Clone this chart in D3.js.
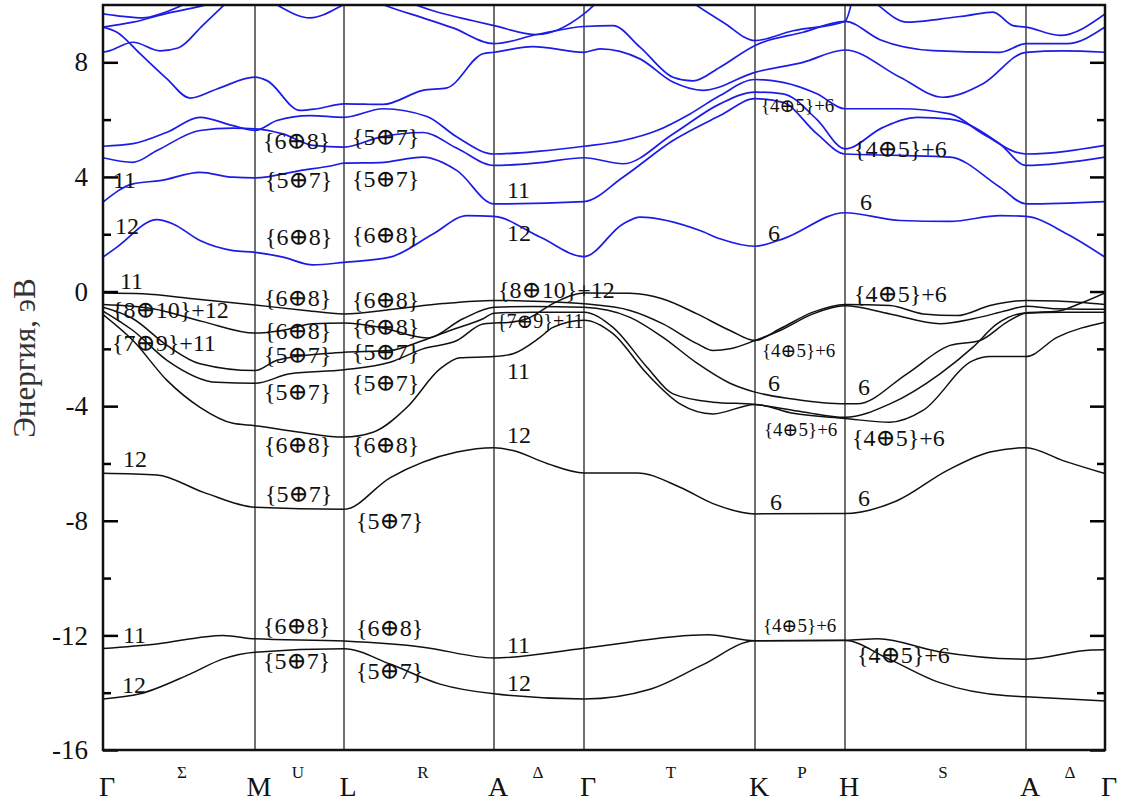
<!DOCTYPE html>
<html>
<head>
<meta charset="utf-8">
<script src="https://cdn.jsdelivr.net/npm/d3@7"></script>
<style>
  body { margin: 0; background: #fff; }
  svg text { font-family: "Liberation Serif", "DejaVu Serif", serif; }
</style>
</head>
<body>
<svg id="chart" width="1129" height="804"></svg>
<script>
// path through the Brillouin zone (path length, arb. units)
const kLabels = ["Γ", "M", "L", "A", "Γ", "K", "H", "A", "Γ"];
const kPoints = [0, 1.52, 2.41, 3.91, 4.81, 6.52, 7.42, 9.23, 10.02];
const segLabels = ["Σ", "U", "R", "Δ", "T", "P", "S", "Δ"];
const segPoints = [0.79, 1.95, 3.2, 4.35, 5.68, 6.99, 8.4, 9.67];
const yMajor = [-16, -12, -8, -4, 0, 4, 8];
const yMinor = [-14, -10, -6, -2, 2, 6];

// valence bands [k, E in eV]
const bandV1 = [[0,-0.05],[0.4,-0.08],[0.9,-0.25],[1.52,-0.47],[2.0,-0.65],[2.41,-0.78],[2.9,-0.62],[3.4,-0.42],[3.91,-0.31],[4.4,-0.35],[4.81,-0.43],[5.27,-0.66],[5.6,-1.13],[5.94,-1.82],[6.1,-2.06],[6.27,-2.0],[6.52,-1.71],[6.77,-1.36],[7.1,-0.78],[7.42,-0.5],[7.87,-0.78],[8.37,-1.12],[8.7,-0.95],[9.04,-0.66],[9.23,-0.51],[9.54,-0.6],[10.02,-0.62]];
const bandV2 = [[0,-0.45],[0.5,-0.6],[1.0,-1.05],[1.52,-1.45],[1.8,-1.35],[2.1,-1.12],[2.41,-1.1],[2.8,-1.27],[3.24,-1.62],[3.6,-0.95],[3.91,-0.55],[4.3,-0.52],[4.81,-0.55],[5.27,-0.9],[5.6,-1.6],[5.94,-2.5],[6.27,-3.2],[6.52,-3.51],[6.9,-3.75],[7.42,-3.92],[7.54,-3.92],[8.04,-2.87],[8.47,-1.88],[8.77,-1.71],[9.04,-1.07],[9.23,-0.76],[9.6,-0.72],[10.02,-0.72]];
const bandV3 = [[0,-0.55],[0.3,-0.95],[0.64,-1.88],[0.97,-2.52],[1.52,-2.76],[1.74,-2.4],[2.2,-2.17],[2.41,-2.12],[2.87,-2.06],[3.2,-1.71],[3.47,-1.36],[3.8,-0.95],[3.91,-0.76],[4.3,-0.72],[4.81,-0.72],[5.1,-1.25],[5.44,-2.64],[5.7,-3.57],[6.1,-3.86],[6.52,-3.94],[7.0,-4.2],[7.42,-4.39],[7.87,-3.92],[8.37,-2.87],[8.7,-1.94],[8.94,-1.13],[9.23,-0.74],[9.54,-0.69],[9.77,-0.42],[10.02,-0.05]];
const bandV4 = [[0,-0.68],[0.3,-1.36],[0.64,-2.4],[1.14,-3.17],[1.52,-3.2],[1.87,-2.87],[2.41,-2.73],[2.87,-2.47],[3.2,-2.0],[3.54,-1.71],[3.8,-1.13],[3.91,-1.1],[4.05,-1.08],[4.24,-0.95],[4.5,-0.42],[4.7,-0.12],[4.81,-0.05],[5.27,-0.06],[5.6,-0.26],[5.94,-0.78],[6.27,-1.36],[6.52,-1.71],[6.77,-1.3],[7.1,-0.72],[7.42,-0.45],[7.87,-0.49],[8.2,-0.78],[8.54,-0.84],[8.87,-0.49],[9.23,-0.31],[9.54,-0.33],[10.02,-0.45]];
const bandV5 = [[0,-0.8],[0.3,-1.71],[0.64,-3.1],[0.97,-4.04],[1.3,-4.6],[1.52,-4.68],[1.97,-4.91],[2.41,-5.08],[2.7,-4.91],[3.04,-4.04],[3.37,-2.7],[3.57,-2.31],[3.91,-2.27],[4.1,-2.17],[4.37,-1.6],[4.5,-1.25],[4.81,-1.0],[5.1,-1.47],[5.44,-2.87],[5.77,-3.92],[6.1,-4.27],[6.52,-3.94],[6.9,-4.25],[7.42,-4.43],[7.87,-4.56],[8.2,-4.15],[8.7,-2.41],[8.87,-2.27],[9.23,-2.27],[9.54,-1.6],[10.02,-1.07]];
const bandV6 = [[0,-6.34],[0.54,-6.4],[1.0,-7.0],[1.52,-7.53],[2.41,-7.6],[2.87,-6.5],[3.54,-5.6],[3.91,-5.45],[4.1,-5.55],[4.44,-6.0],[4.81,-6.33],[5.34,-6.33],[5.77,-6.83],[6.1,-7.4],[6.52,-7.76],[7.42,-7.75],[7.94,-7.3],[8.44,-6.25],[8.87,-5.6],[9.23,-5.45],[9.6,-5.9],[10.02,-6.35]];
const bandB1 = [[0,-14.22],[0.37,-14.04],[0.87,-13.35],[1.2,-12.82],[1.52,-12.59],[2.41,-12.47],[2.87,-13.0],[3.37,-13.7],[3.91,-14.04],[4.81,-14.22],[5.48,-13.87],[5.99,-13.04],[6.52,-12.19],[7.42,-12.18],[7.85,-12.81],[8.36,-13.64],[9.04,-14.11],[9.23,-14.14],[10.02,-14.29]];
const bandB2 = [[0,-12.46],[0.54,-12.3],[1.2,-12.0],[1.52,-12.12],[2.41,-12.2],[3.2,-12.41],[3.91,-12.79],[4.81,-12.45],[6.05,-11.98],[6.52,-12.19],[7.42,-12.17],[7.75,-12.12],[8.36,-12.57],[9.23,-12.83],[9.88,-12.51],[10.02,-12.5]];

// conduction bands [k, E in eV]
const bandC1 = [[0,1.2],[0.14,1.55],[0.54,2.51],[0.7,2.36],[0.97,1.78],[1.3,1.43],[1.52,1.37],[1.8,1.2],[2.1,0.93],[2.41,1.02],[2.87,1.2],[3.3,2.01],[3.64,2.65],[3.91,2.62],[4.37,1.9],[4.81,1.22],[5.2,2.36],[5.37,2.6],[5.97,2.13],[6.17,1.84],[6.52,1.58],[6.8,1.84],[7.42,2.75],[7.97,2.48],[8.47,2.45],[8.97,2.65],[9.23,2.62],[9.64,2.01],[10.02,1.2]];
const bandC2 = [[0,3.12],[0.3,3.76],[0.57,3.87],[0.97,4.16],[1.3,3.99],[1.52,3.97],[1.97,4.22],[2.3,4.4],[2.41,4.48],[2.77,4.5],[3.2,4.69],[3.54,4.22],[3.91,3.06],[4.81,3.14],[5.2,3.99],[5.7,5.27],[6.17,6.14],[6.52,6.73],[6.8,6.6],[7.14,5.5],[7.42,4.8],[7.97,4.75],[8.47,4.69],[8.97,3.64],[9.23,3.06],[10.02,3.14]];
const bandC3 = [[0,4.67],[0.3,4.51],[0.54,4.92],[0.97,5.62],[1.3,5.7],[1.52,5.68],[1.8,5.5],[2.1,5.1],[2.41,5.04],[2.77,5.39],[3.2,5.55],[3.54,5.0],[3.91,4.4],[4.37,4.5],[4.81,4.67],[5.2,4.46],[5.7,5.5],[6.17,6.55],[6.52,6.96],[6.8,6.9],[7.14,6.0],[7.42,4.98],[7.8,5.73],[8.14,6.08],[8.47,6.02],[8.97,5.15],[9.23,4.4],[10.02,4.69]];
const bandC4 = [[0,5.07],[0.3,5.16],[0.64,5.56],[0.97,6.08],[1.3,5.79],[1.52,5.62],[1.74,5.97],[2.07,6.14],[2.41,6.08],[2.8,6.38],[3.24,6.11],[3.54,5.39],[3.91,4.8],[4.37,4.9],[4.81,5.07],[5.2,5.27],[5.54,5.62],[5.87,6.2],[6.17,6.84],[6.52,7.4],[6.8,7.3],[7.14,6.9],[7.42,6.38],[7.97,6.38],[8.47,6.2],[8.8,5.5],[9.23,4.8],[10.02,5.1]];
const bandC5 = [[0,9.23],[0.14,9.05],[0.37,8.3],[0.64,7.42],[0.87,6.75],[1.14,7.07],[1.52,7.48],[1.64,7.36],[1.97,6.32],[2.14,6.38],[2.41,6.55],[2.8,6.53],[3.2,7.02],[3.44,7.11],[3.8,8.3],[3.91,8.35],[4.3,8.55],[4.81,8.35],[4.97,8.47],[5.37,8.12],[5.7,7.31],[6.0,7.02],[6.52,7.65],[7.0,8.0],[7.42,8.43],[7.97,7.48],[8.4,6.78],[8.8,7.25],[9.23,8.35],[9.6,8.4],[10.02,8.35]];
const bandC6 = [[0,8.35],[0.07,8.41],[0.3,8.7],[0.57,8.4],[0.75,8.5],[1.0,9.3],[1.3,10.3]];
const bandC7 = [[0,9.23],[0.3,9.4],[0.63,9.7],[0.97,9.95],[1.3,10.3]];
const bandC8 = [[0,9.69],[0.2,9.6],[0.4,9.55],[0.6,9.72],[0.97,10.3]];
const bandC9 = [[1.6,10.3],[1.74,10.0],[2.07,9.55],[2.4,10.0],[2.55,10.3]];
const bandC10 = [[2.6,10.3],[2.85,9.95],[3.2,9.55],[3.5,9.2],[3.91,8.65],[4.34,8.97],[4.81,9.25],[5.1,9.28],[5.37,8.53],[5.7,7.48],[5.9,7.35],[6.17,7.83],[6.52,8.59],[7.0,9.05],[7.42,9.43],[7.77,8.79],[8.3,8.41],[8.97,8.35],[9.23,8.65],[9.64,8.65],[10.02,9.23]];
const bandC11 = [[2.9,10.3],[3.3,9.8],[3.7,9.45],[3.91,9.28],[4.34,8.97],[4.81,9.69],[5.0,10.3]];
const bandC12 = [[5.8,10.3],[6.2,9.4],[6.52,8.76],[6.9,9.1],[7.42,9.43],[7.5,10.3]];
const bandC13 = [[7.65,10.3],[7.75,10.0],[8.04,9.4],[8.37,9.51],[8.64,9.63],[8.9,9.75],[9.1,9.28],[9.23,9.23],[9.57,8.94],[10.02,9.69]];

const valenceBands = [bandV1, bandV2, bandV3, bandV4, bandV5, bandV6, bandB1, bandB2];
const conductionBands = [bandC1, bandC2, bandC3, bandC4, bandC5, bandC6, bandC7, bandC8, bandC9, bandC10, bandC11, bandC12, bandC13];

// irreducible representation labels [k, E, text, font size]
const repLabels = [
  [0.10, 3.63, "11", 24], [0.12, 2.02, "12", 24], [0.17, 0.10, "11", 24],
  [0.09, -0.94, "{8⊕10}+12", 24], [0.09, -2.06, "{7⊕9}+11", 24], [0.20, -6.14, "12", 24],
  [0.20, -12.25, "11", 24], [0.19, -14.0, "12", 24],
  [1.60, 4.99, "{6⊕8}", 24], [1.62, 3.63, "{5⊕7}", 24], [1.62, 1.64, "{6⊕8}", 24],
  [1.61, -0.49, "{6⊕8}", 24], [1.61, -1.64, "{6⊕8}", 24], [1.61, -2.51, "{5⊕7}", 24],
  [1.61, -3.80, "{5⊕7}", 24], [1.61, -5.62, "{6⊕8}", 24], [1.62, -7.36, "{5⊕7}", 24],
  [1.60, -11.94, "{6⊕8}", 24], [1.60, -13.16, "{5⊕7}", 24],
  [2.49, 5.10, "{5⊕7}", 24], [2.49, 3.66, "{5⊕7}", 24], [2.49, 1.68, "{6⊕8}", 24],
  [2.49, -0.59, "{6⊕8}", 24], [2.49, -1.50, "{6⊕8}", 24], [2.49, -2.40, "{5⊕7}", 24],
  [2.49, -3.46, "{5⊕7}", 24], [2.49, -5.65, "{6⊕8}", 24], [2.53, -8.27, "{5⊕7}", 24],
  [2.53, -12.01, "{6⊕8}", 24], [2.53, -13.51, "{5⊕7}", 24],
  [4.04, 3.25, "11", 24], [4.04, 1.78, "12", 24], [3.95, -0.21, "{8⊕10}+12", 24],
  [3.94, -1.26, "{7⊕9}+11", 20], [4.04, -3.04, "11", 24], [4.04, -5.27, "12", 24],
  [4.04, -12.6, "11", 24], [4.04, -13.93, "12", 24],
  [6.58, 6.25, "{4⊕5}+6", 19], [6.65, 1.78, "6", 24], [6.59, -2.30, "{4⊕5}+6", 19],
  [6.65, -3.46, "6", 24], [6.61, -5.03, "{4⊕5}+6", 19], [6.67, -7.61, "6", 24],
  [6.60, -11.87, "{4⊕5}+6", 19],
  [7.51, 4.68, "{4⊕5}+6", 24], [7.57, 2.83, "6", 24], [7.51, -0.38, "{4⊕5}+6", 24],
  [7.55, -3.60, "6", 24], [7.49, -5.38, "{4⊕5}+6", 24], [7.55, -7.47, "6", 24],
  [7.54, -12.98, "{4⊕5}+6", 24]
];

let svg = d3.select("#chart");
let margin = { top: 5, right: 24, bottom: 54, left: 103 };
let W = 1129 - margin.left - margin.right;
let H = 804 - margin.top - margin.bottom;

let x = d3.scaleLinear().domain([0, 10.02]).range([margin.left, margin.left + W]);
let y = d3.scaleLinear().domain([-16, 10]).range([margin.top + H, margin.top]);

svg.append("defs").append("clipPath").attr("id", "plotclip")
  .append("rect")
  .attr("x", margin.left).attr("y", margin.top)
  .attr("width", W).attr("height", H);

// vertical lines at high-symmetry points
svg.append("g").selectAll("line")
  .data(kPoints.slice(1, -1))
  .join("line")
  .attr("x1", d => x(d)).attr("x2", d => x(d))
  .attr("y1", y(10)).attr("y2", y(-16))
  .attr("stroke", "#111").attr("stroke-width", 1.2);

let line = d3.line()
  .x(d => x(d[0]))
  .y(d => y(d[1]))
  .curve(d3.curveMonotoneX);

let bands = svg.append("g").attr("clip-path", "url(#plotclip)").attr("fill", "none");

bands.selectAll("path.cond")
  .data(conductionBands)
  .join("path")
  .attr("class", "cond")
  .attr("d", line)
  .attr("stroke", "#1c1ce6")
  .attr("stroke-width", 1.7);

bands.selectAll("path.val")
  .data(valenceBands)
  .join("path")
  .attr("class", "val")
  .attr("d", line)
  .attr("stroke", "#111")
  .attr("stroke-width", 1.5);

// y axes, ticks pointing inward
let fmt = d => String(d);
svg.append("g")
  .attr("transform", "translate(" + margin.left + ",0)")
  .call(d3.axisLeft(y).tickValues(yMajor).tickSizeInner(-15).tickSizeOuter(0).tickPadding(15).tickFormat(fmt))
  .call(g => g.select(".domain").remove())
  .call(g => g.selectAll("line").attr("stroke-width", 2.5))
  .call(g => g.selectAll("text").attr("font-size", 27).attr("font-family", "Liberation Serif").attr("fill", "#111"));

svg.append("g")
  .attr("transform", "translate(" + margin.left + ",0)")
  .call(d3.axisLeft(y).tickValues(yMinor).tickSizeInner(-8).tickSizeOuter(0).tickFormat(""))
  .call(g => g.select(".domain").remove())
  .call(g => g.selectAll("line").attr("stroke-width", 2.5));

svg.append("g")
  .attr("transform", "translate(" + (margin.left + W) + ",0)")
  .call(d3.axisRight(y).tickValues(yMajor).tickSizeInner(-15).tickSizeOuter(0).tickFormat(""))
  .call(g => g.select(".domain").remove())
  .call(g => g.selectAll("line").attr("stroke-width", 2.5));

svg.append("g")
  .attr("transform", "translate(" + (margin.left + W) + ",0)")
  .call(d3.axisRight(y).tickValues(yMinor).tickSizeInner(-8).tickSizeOuter(0).tickFormat(""))
  .call(g => g.select(".domain").remove())
  .call(g => g.selectAll("line").attr("stroke-width", 2.5));

// frame
svg.append("rect")
  .attr("x", margin.left).attr("y", margin.top)
  .attr("width", W).attr("height", H)
  .attr("fill", "none").attr("stroke", "#111").attr("stroke-width", 2.5);

// k-point labels
svg.append("g").selectAll("text")
  .data(kLabels)
  .join("text")
  .attr("x", (d, i) => x(kPoints[i]) + 4)
  .attr("y", 796)
  .attr("text-anchor", "middle")
  .attr("font-size", 28)
  .attr("fill", "#111")
  .text(d => d);

svg.append("g").selectAll("text")
  .data(segLabels)
  .join("text")
  .attr("x", (d, i) => x(segPoints[i]))
  .attr("y", 778)
  .attr("text-anchor", "middle")
  .attr("font-size", 17)
  .attr("fill", "#111")
  .text(d => d);

// axis title
svg.append("text")
  .attr("transform", "translate(35,358) rotate(-90)")
  .attr("text-anchor", "middle")
  .attr("font-size", 31)
  .attr("fill", "#333")
  .text("Энергия, эВ");

// representation labels
svg.append("g").selectAll("text")
  .data(repLabels)
  .join("text")
  .attr("x", d => x(d[0]))
  .attr("y", d => y(d[1]))
  .attr("font-size", d => d[3])
  .attr("fill", "#111")
  .text(d => d[2]);
</script>
</body>
</html>
